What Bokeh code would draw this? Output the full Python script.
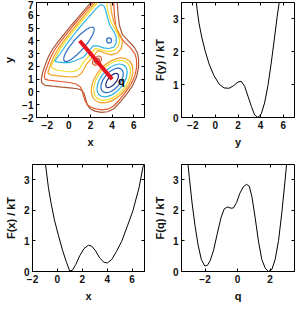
from bokeh.plotting import figure
from bokeh.models import Range1d, LinearAxis, FixedTicker
from bokeh.layouts import column, row
from bokeh.embed import file_html
from bokeh.resources import INLINE
from bokeh.core.properties import value

FONT = "Liberation Sans"

# ---------------- data: contour map ----------------
# outer contour lines (open at the top edge)
brown_x = [2.04, 1.45, 0.86, 0.25, -0.33, -0.95, -1.52, -1.9, -2.2, -2.45, -2.55, -2.5, -2.2, -1.5, -0.7, 0.1, 0.8, 1.2,
           1.42, 1.55, 1.7, 1.95, 2.4, 3.0, 3.6, 4.2, 4.8, 5.38, 5.9, 6.25, 6.45, 6.45, 6.35, 6.05, 5.5, 4.95, 4.68, 4.55, 4.48]
brown_y = [7.0, 6.42, 5.83, 5.24, 4.65, 4.0, 3.34, 2.75, 2.1, 1.45, 1.0, 0.7, 0.52, 0.45, 0.38, 0.32, 0.25, 0.12,
           -0.15, -0.55, -1.0, -1.3, -1.5, -1.6, -1.55, -1.3, -0.74, -0.13, 0.5, 1.15, 1.9, 2.6, 3.05, 3.5, 4.0, 4.5, 5.2, 6.1, 7.0]
red_x = [2.25, 1.65, 1.05, 0.45, -0.12, -0.72, -1.28, -1.65, -1.95, -2.2, -2.28, -2.2, -1.9, -1.3, -0.6, 0.1, 0.7, 1.05,
         1.22, 1.35, 1.5, 1.72, 2.05, 2.5, 3.05, 3.6, 4.15, 4.67, 5.24, 5.75, 6.1, 6.28, 6.25, 6.1, 5.7, 5.15, 4.65, 4.35, 4.22, 4.15]
red_y = [7.0, 6.42, 5.83, 5.24, 4.65, 4.0, 3.34, 2.78, 2.15, 1.55, 1.2, 1.0, 0.92, 0.86, 0.8, 0.74, 0.6, 0.4,
         0.1, -0.3, -0.7, -1.0, -1.2, -1.33, -1.4, -1.35, -1.1, -0.63, -0.02, 0.6, 1.25, 1.95, 2.6, 3.0, 3.45, 3.9, 4.45, 5.1, 6.0, 7.0]
# contours around the upper-left basin and the small basin near (3.7, 4)
orange_x = [2.45, 1.85, 1.25, 0.65, 0.1, -0.5, -1.05, -1.4, -1.7, -1.95, -1.75, -1.2, -0.5, 0.2, 0.75, 1.15, 1.4, 1.61,
            2.21, 2.71, 3.3, 3.9, 4.5, 4.85, 4.95, 4.8, 4.45, 4.15, 3.95, 3.85]
orange_y = [7.0, 6.4, 5.8, 5.2, 4.62, 3.95, 3.3, 2.75, 2.15, 1.5, 1.35, 1.28, 1.22, 1.17, 1.2, 1.45, 1.8, 2.15,
            2.75, 3.25, 3.05, 2.9, 3.05, 3.4, 3.9, 4.4, 4.9, 5.5, 6.2, 7.0]
yellow_x = [2.67, 2.05, 1.45, 0.85, 0.3, -0.3, -0.82, -1.15, -1.45, -1.65, -1.45, -1.0, -0.4, 0.2, 0.7, 1.05, 1.3,
            1.97, 2.45, 3.0, 3.6, 4.2, 4.6, 4.7, 4.55, 4.25, 3.9, 3.7, 3.55, 3.5]
yellow_y = [7.0, 6.4, 5.8, 5.2, 4.62, 3.97, 3.35, 2.85, 2.35, 2.0, 1.8, 1.7, 1.62, 1.58, 1.65, 1.9, 2.25,
            2.93, 3.41, 3.3, 3.15, 3.25, 3.6, 4.05, 4.5, 4.95, 5.45, 6.05, 6.6, 7.0]
cyan_x = [2.95, 2.5, 1.9, 1.3, 0.7, 0.15, -0.4, -0.85, -1.2, -1.3, -1.0, -0.5, 0.0, 0.5, 0.95, 1.34, 1.74, 2.24,
          2.7, 3.2, 3.7, 4.15, 4.38, 4.38, 4.15, 3.8, 3.58, 3.42, 3.25, 2.95]
cyan_y = [6.85, 6.5, 5.92, 5.35, 4.75, 4.15, 3.5, 2.95, 2.55, 2.4, 2.33, 2.3, 2.3, 2.42, 2.58, 2.71, 3.11, 3.61,
          3.6, 3.45, 3.4, 3.5, 3.85, 4.3, 4.75, 5.2, 5.8, 6.35, 6.72, 6.85]

# closed rings: centre, width, height, angle (deg)
ring_x = [0.93, 3.72, 4.0, 4.0, 4.0, 4.0, 4.0, 2.6, 2.6]
ring_y = [3.73, 4.03, 0.9, 0.9, 0.9, 0.9, 0.9, 2.45, 2.45]
ring_w = [4.11, 0.45, 1.61, 2.68, 3.57, 4.29, 4.82, 0.98, 0.54]
ring_h = [0.94, 0.39, 0.63, 1.26, 1.73, 2.2, 2.51, 0.55, 0.28]
ring_a = [49, 0, 50, 50, 50, 50, 50, 45, 45]
ring_c = ["#2b6cc4", "#2b6cc4", "#1c2a80", "#2b6cc4", "#2ab3e4", "#f2de2a", "#f4a125", "#e65a2c", "#a5593a"]

path_x = [1, 4]
path_y = [4, 1]
q_label = "q"
q_pos = (4.85, 0.89)

# ---------------- data: free energy profiles ----------------
fy_y = [-1.74, -1.62, -1.45, -1.21, -0.91, -0.56, -0.15, 0.32, 0.76, 1.21, 1.62, 2.0, 2.29, 2.59, 2.88, 3.18,
        3.47, 3.76, 4.06, 4.35, 4.65, 4.94, 5.24, 5.47, 5.74]
fy_f = [3.72, 3.29, 2.87, 2.45, 2.03, 1.63, 1.29, 1.02, 0.90, 0.89, 0.97, 1.08, 1.10, 0.95, 0.65, 0.34,
        0.08, 0.0, 0.11, 0.44, 0.97, 1.66, 2.45, 3.08, 3.72]
fx_x = [-1.01, -0.88, -0.72, -0.5, -0.24, 0.09, 0.41, 0.73, 0.99, 1.21, 1.48, 1.8, 2.14, 2.49, 2.76, 3.08,
        3.4, 3.75, 4.02, 4.36, 4.74, 5.17, 5.62, 6.07, 6.56, 6.88, 7.04]
fx_f = [3.68, 3.26, 2.74, 2.22, 1.69, 1.17, 0.70, 0.30, 0.02, 0.04, 0.23, 0.52, 0.75, 0.86, 0.83, 0.67,
        0.44, 0.30, 0.28, 0.39, 0.65, 0.99, 1.48, 1.99, 2.74, 3.42, 3.68]
fq_q = [-3.09, -2.97, -2.8, -2.62, -2.43, -2.23, -2.02, -1.86, -1.68, -1.47, -1.25, -1.02, -0.82, -0.61, -0.41,
        -0.25, -0.06, 0.14, 0.35, 0.55, 0.72, 0.88, 1.08, 1.29, 1.49, 1.7, 1.9, 2.11, 2.31, 2.52, 2.72, 2.92, 3.05]
fq_f = [3.72, 3.08, 2.24, 1.5, 0.87, 0.39, 0.18, 0.2, 0.36, 0.71, 1.24, 1.76, 2.05, 2.11, 2.07,
        2.08, 2.26, 2.56, 2.77, 2.85, 2.79, 2.45, 1.76, 0.97, 0.39, 0.11, 0.0, 0.07, 0.39, 1.02, 1.92, 2.98, 3.72]

xy_ticks = [-2, 0, 2, 4, 6]
map_yticks = [-2, -1, 0, 1, 2, 3, 4, 5, 6, 7]
f_ticks = [0, 1, 2, 3]
q_ticks = [-2, 0, 2]

MINUS = {-2: "\u22122", -1: "\u22121"}


def style_axis(ax, ticks, label):
    ax.ticker = FixedTicker(ticks=ticks)
    ax.major_label_overrides = {k: v for k, v in MINUS.items() if k in ticks}
    ax.axis_label = label
    ax.major_tick_in = 3
    ax.major_tick_out = 0
    ax.major_tick_line_color = "black"
    ax.minor_tick_line_color = None
    ax.axis_line_color = "black"
    ax.major_label_text_font = FONT
    ax.major_label_text_font_size = "10px"
    ax.major_label_text_font_style = "bold"
    ax.major_label_text_color = "#111111"
    ax.major_label_standoff = 3
    ax.axis_label_text_font = FONT
    ax.axis_label_text_font_size = "11px"
    ax.axis_label_text_font_style = "bold"
    ax.axis_label_text_color = "#111111"
    ax.axis_label_standoff = 4


def mirror(p, ticks, side):
    ax = LinearAxis(ticker=FixedTicker(ticks=ticks))
    ax.major_label_overrides = {t: "" for t in ticks}
    ax.major_label_text_font_size = "1px"
    ax.major_label_standoff = 0
    ax.major_tick_in = 3
    ax.major_tick_out = 0
    ax.minor_tick_line_color = None
    ax.axis_line_color = None
    p.add_layout(ax, side)


def make(w, h, xr, yr, xt, yt, xl, yl, bl, br, bt, bb):
    p = figure(width=w, height=h, x_range=Range1d(*xr), y_range=Range1d(*yr),
               output_backend="svg", toolbar_location=None,
               min_border_left=bl, min_border_right=br, min_border_top=bt, min_border_bottom=bb)
    p.grid.visible = False
    p.outline_line_color = "black"
    p.outline_line_width = 1
    p.background_fill_color = "white"
    p.border_fill_color = "white"
    style_axis(p.xaxis[0], xt, xl)
    style_axis(p.yaxis[0], yt, yl)
    mirror(p, xt, "above")
    mirror(p, yt, "right")
    return p


# --- contour map ---
p1 = make(150, 150, (-3, 7), (-2, 7), xy_ticks, map_yticks, "x", "y", 32, 6, 2, 33)
p1.multi_line(xs=[brown_x, red_x, orange_x, yellow_x, cyan_x],
              ys=[brown_y, red_y, orange_y, yellow_y, cyan_y],
              line_color=["#a5593a", "#e65a2c", "#f4a125", "#f2de2a", "#2ab3e4"], line_width=1.2)
p1.ellipse(x=ring_x, y=ring_y, width=ring_w, height=ring_h, angle=ring_a, angle_units="deg",
           fill_color=None, line_color=ring_c, line_width=1.2)
p1.line(path_x, path_y, line_color="#e8141e", line_width=4)
p1.text(x=[q_pos[0]], y=[q_pos[1]], text=[q_label], text_font=value(FONT), text_font_style="bold",
        text_font_size="11px", text_align="center", text_baseline="middle", text_color="black")

# --- F(y) ---
p2 = make(149, 150, (-3, 7), (0, 3.5), xy_ticks, f_ticks, "y", "F(y) / kT", 31, 5, 2, 33)
p2.line(fy_y, fy_f, line_color="black", line_width=1)

# --- F(x) ---
p3 = make(150, 154, (-2, 7), (0, 3.5), xy_ticks, f_ticks, "x", "F(x) / kT", 32, 6, 14, 28)
p3.line(fx_x, fx_f, line_color="black", line_width=1)

# --- F(q) ---
p4 = make(149, 154, (-3.45, 3.5), (0, 3.5), q_ticks, f_ticks, "q", "F(q) / kT", 31, 5, 14, 28)
p4.line(fq_q, fq_f, line_color="black", line_width=1)

layout = column(row(p1, p2), row(p3, p4))
open("out.html", "w").write(file_html(layout, INLINE))
